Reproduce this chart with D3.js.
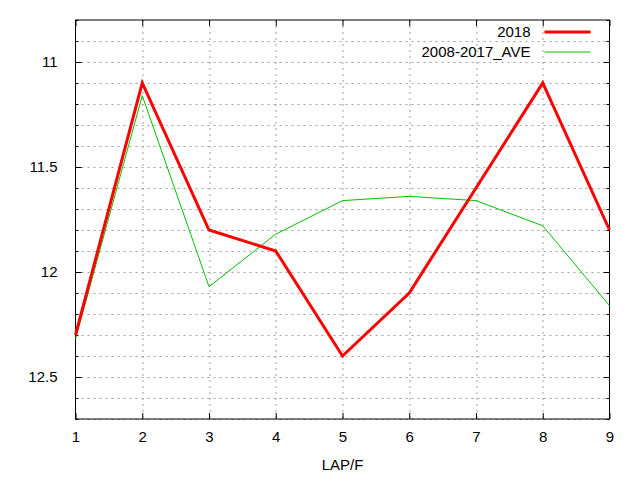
<!DOCTYPE html>
<html>
<head>
<meta charset="utf-8">
<script src="https://cdn.jsdelivr.net/npm/d3@7"></script>
<style>
  body { margin: 0; background: #fff; }
  text { font-family: "Liberation Sans", Arial, sans-serif; font-size: 15px; fill: #000; }
</style>
</head>
<body>
<div id="chart"></div>
<script>
const laps = [1, 2, 3, 4, 5, 6, 7, 8, 9];
const times2018 = [12.3, 11.1, 11.8, 11.9, 12.4, 12.1, 11.6, 11.1, 11.8];
const timesAve = [12.32, 11.16, 12.07, 11.82, 11.66, 11.64, 11.66, 11.78, 12.16];
const yTickLabels = [11, 11.5, 12, 12.5];
const seriesNames = ["2018", "2008-2017_AVE"];

const margin = { top: 20, right: 30.5, bottom: 61, left: 75.5 };
const width = 640 - margin.left - margin.right;
const height = 480 - margin.top - margin.bottom;

const svg = d3.select('#chart')
    .append('svg')
    .attr('width', 640)
    .attr('height', 480)
    .append('g')
    .attr('transform', `translate(${margin.left}, ${margin.top})`);

const x = d3.scaleLinear()
    .domain([1, 9])
    .range([0, width]);

// gnuplot style reversed y axis
const y = d3.scaleLinear()
    .domain([10.8, 12.7])
    .range([0, height]);

const minorTicks = d3.range(108, 128).map(d => d / 10);

// dotted grid
svg.append('g')
    .selectAll('line')
    .data(minorTicks.filter(d => d > 10.8))
    .enter()
    .append('line')
    .attr('x1', 0).attr('x2', width)
    .attr('y1', d => Math.round(y(d)) + 0.5)
    .attr('y2', d => Math.round(y(d)) + 0.5)
    .attr('stroke', '#a0a0a0')
    .attr('stroke-dasharray', '2,4');

svg.append('g')
    .selectAll('line')
    .data(laps.slice(1, -1))
    .enter()
    .append('line')
    .attr('y1', 0).attr('y2', height)
    .attr('x1', d => Math.round(x(d)) + 0.5)
    .attr('x2', d => Math.round(x(d)) + 0.5)
    .attr('stroke', '#a0a0a0')
    .attr('stroke-dasharray', '2,4');

// axes
const xb = svg.append('g')
    .attr('transform', `translate(0,${height})`)
    .call(d3.axisBottom(x).tickValues(laps).tickFormat(d3.format('d')).tickSize(-6).tickPadding(12));
const xt = svg.append('g')
    .call(d3.axisTop(x).tickValues(laps).tickFormat('').tickSize(-6));
const yl = svg.append('g')
    .call(d3.axisLeft(y).tickValues(yTickLabels).tickFormat(d3.format('')).tickSize(-6).tickPadding(18));
const yr = svg.append('g')
    .attr('transform', `translate(${width},0)`)
    .call(d3.axisRight(y).tickValues(yTickLabels).tickFormat('').tickSize(-6));
const ylm = svg.append('g')
    .call(d3.axisLeft(y).tickValues(minorTicks).tickFormat('').tickSize(-3));
const yrm = svg.append('g')
    .attr('transform', `translate(${width},0)`)
    .call(d3.axisRight(y).tickValues(minorTicks).tickFormat('').tickSize(-3));

[xb, xt, yl, yr, ylm, yrm].forEach(g => {
    g.select('.domain').remove();
    g.selectAll('line').attr('stroke', '#000');
    g.selectAll('text').style('font-size', '15px').attr('fill', '#000');
});

svg.append('rect')
    .attr('x', 0).attr('y', 0)
    .attr('width', width).attr('height', height)
    .attr('fill', 'none')
    .attr('stroke', '#000');

// lines
const line = d3.line()
    .x((d, i) => x(laps[i]))
    .y(d => y(d));

svg.append('path')
    .datum(timesAve)
    .attr('d', line)
    .attr('fill', 'none')
    .attr('stroke', '#00c000')
    .attr('stroke-width', 1);

svg.append('path')
    .datum(times2018)
    .attr('d', line)
    .attr('fill', 'none')
    .attr('stroke', '#ff0000')
    .attr('stroke-width', 3);

// legend
const legend = svg.append('g')
    .attr('transform', `translate(${455}, ${12})`);
const colors = ['#ff0000', '#00c000'];
const widths = [3, 1];
seriesNames.forEach((name, i) => {
    legend.append('text')
        .attr('x', 0)
        .attr('y', i * 20)
        .attr('dy', '0.35em')
        .style('text-anchor', 'end')
        .text(name);
    legend.append('line')
        .attr('x1', 14).attr('x2', 60)
        .attr('y1', i * 20).attr('y2', i * 20)
        .attr('stroke', colors[i])
        .attr('stroke-width', widths[i]);
});

svg.append('text')
    .attr('x', width / 2)
    .attr('y', height + 51)
    .style('text-anchor', 'middle')
    .text('LAP/F');
</script>
</body>
</html>
